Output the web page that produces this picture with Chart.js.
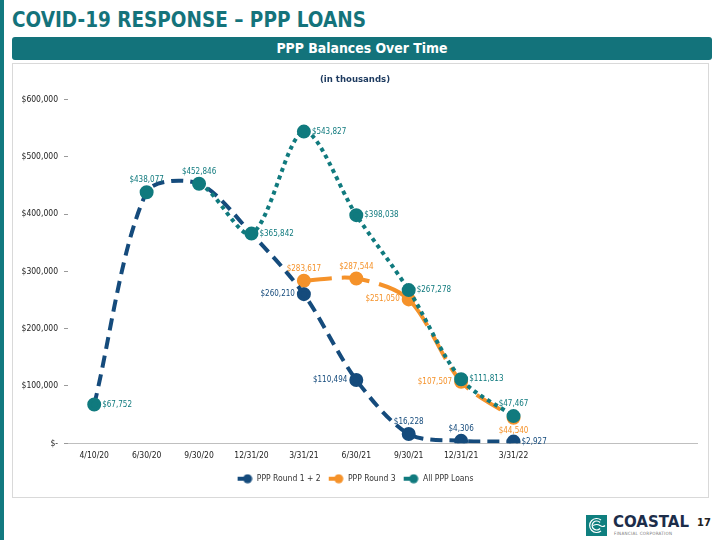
<!DOCTYPE html>
<html>
<head>
<meta charset="utf-8">
<script src="https://cdn.jsdelivr.net/npm/chart.js@4.4.1/dist/chart.umd.min.js"></script>
<style>
  html, body { margin: 0; padding: 0; background: #fff; }
  body { width: 720px; height: 540px; position: relative; overflow: hidden; font-family: 'DejaVu Sans Condensed', 'DejaVu Sans', sans-serif; }
  .sidebar { position: absolute; left: 0; top: 0; width: 4px; height: 540px; background: #127a80; }
  .title { position: absolute; left: 12px; top: 8px; font-size: 20.5px; font-weight: bold; color: #14737b; white-space: nowrap; }
  .band { position: absolute; left: 12px; top: 37px; width: 700px; height: 23px; background: #13737b; border-radius: 3px;
          color: #fff; font-weight: bold; font-size: 13.9px; text-align: center; line-height: 23px; }
  .box { position: absolute; left: 12px; top: 63px; width: 695px; height: 433px; border: 1px solid #d9d9d9; }
  #wrap { position: absolute; left: 13px; top: 64px; width: 694px; height: 432px; }
  .logo { position: absolute; left: 586px; top: 515px; }
  .brand { position: absolute; left: 613px; top: 513px; font-family: 'DejaVu Sans', sans-serif; font-weight: bold; font-size: 15px; color: #1c2d4a; }
  .sub { position: absolute; left: 614px; top: 531px; font-size: 4.5px; color: #777; letter-spacing: 0.3px; }
  .page { position: absolute; left: 697px; top: 516px; font-weight: bold; font-size: 11px; color: #222; }
</style>
</head>
<body>
<div class="sidebar"></div>
<div class="title">COVID-19 RESPONSE – PPP LOANS</div>
<div class="band">PPP Balances Over Time</div>
<div class="box"></div>
<div id="wrap"><canvas id="chart"></canvas></div>
<svg class="logo" width="21" height="21" viewBox="0 0 21 21">
  <rect width="21" height="21" fill="#0f7f7f"/>
  <path d="M15 5 A7 7 0 1 0 15 16" fill="none" stroke="#fff" stroke-width="1.2"/>
  <path d="M14 7.5 A4.5 4.5 0 1 0 14 13.5" fill="none" stroke="#fff" stroke-width="1.2"/>
  <path d="M7 10.5 Q11 8.5 14 10.5 T19 10.5" fill="none" stroke="#fff" stroke-width="1.2"/>
</svg>
<div class="brand">COASTAL</div>
<div class="sub">FINANCIAL CORPORATION</div>
<div class="page">17</div>
<script>
// quarters shown on the x axis
var categories = ['4/10/20', '6/30/20', '9/30/20', '12/31/20', '3/31/21', '6/30/21', '9/30/21', '12/31/21', '3/31/22'];
// balances, $ thousands
var round12 = [67752, 438077, 452846, 365842, 260210, 110494, 16228, 4306, 2927];
var round3 = [null, null, null, null, 283617, 287544, 251050, 107507, 44540];
var allPpp = [67752, 438077, 452846, 365842, 543827, 398038, 267278, 111813, 47467];
var yTicks = [0, 100000, 200000, 300000, 400000, 500000, 600000];

// where each value label sits relative to its point
var round12Pos = [null, null, null, null, 'left', 'left', 'above', 'above', 'right'];
var round3Pos = [null, null, null, null, 'above', 'above', 'left', 'left', 'below'];
var allPos = ['right', 'above', 'above', 'right', 'right', 'right', 'right', 'right', 'above'];

var navy = '#154b7c';
var orange = '#f5922a';
var teal = '#107a7e';
var FONT = "'DejaVu Sans Condensed', 'DejaVu Sans', sans-serif";

function money(v) {
  return v === 0 ? '$-' : '$' + v.toLocaleString('en-US');
}

// the "All" curve is identical to Round 1 + 2 where both it and its neighbours match
function sameCurve(a, b) {
  var lo = Math.max(0, a - 1), hi = Math.min(allPpp.length - 1, b + 1);
  for (var k = lo; k <= hi; k++) {
    if (allPpp[k] !== round12[k]) return false;
  }
  return true;
}

function legendIcon(color) {
  var c = document.createElement('canvas');
  c.width = 16; c.height = 10;
  var g = c.getContext('2d');
  g.strokeStyle = color; g.lineWidth = 4;
  g.beginPath(); g.moveTo(1, 5); g.lineTo(11, 5); g.stroke();
  g.fillStyle = color;
  g.beginPath(); g.arc(11, 5, 4.5, 0, Math.PI * 2); g.fill();
  return c;
}

var valueLabels = {
  id: 'valueLabels',
  afterDatasetsDraw: function (chart) {
    var ctx = chart.ctx;
    ctx.save();
    ctx.font = '8px ' + FONT;
    chart.data.datasets.forEach(function (ds, i) {
      var meta = chart.getDatasetMeta(i);
      meta.data.forEach(function (pt, j) {
        var v = ds.data[j];
        var where = ds.labelPos[j];
        if (v == null || !where) return;
        var x = pt.x, y = pt.y;
        ctx.fillStyle = ds.borderColor;
        ctx.textBaseline = 'middle';
        if (where === 'right') { ctx.textAlign = 'left'; x += 8; }
        else if (where === 'left') { ctx.textAlign = 'right'; x -= 9; }
        else if (where === 'above') { ctx.textAlign = 'center'; y -= 12; }
        else { ctx.textAlign = 'center'; y += 13; }
        ctx.fillText(money(v), x, y);
      });
    });
    ctx.restore();
  }
};

var ctx = document.getElementById('chart').getContext('2d');
new Chart(ctx, {
  type: 'line',
  data: {
    labels: categories.concat(['', '', '']),
    datasets: [
      {
        label: 'PPP Round 1 + 2',
        data: round12,
        labelPos: round12Pos,
        borderColor: navy,
        backgroundColor: navy,
        borderWidth: 4,
        borderDash: [12, 7],
        pointRadius: function (c) { return c.dataIndex < 4 ? 0 : 5; },
        order: 1
      },
      {
        label: 'PPP Round 3',
        data: round3,
        labelPos: round3Pos,
        borderColor: orange,
        backgroundColor: orange,
        borderWidth: 4,
        borderDash: [28, 10],
        pointRadius: 5,
        order: 2
      },
      {
        label: 'All PPP Loans',
        data: allPpp,
        labelPos: allPos,
        borderColor: teal,
        backgroundColor: teal,
        borderWidth: 4,
        borderDash: [4, 4],
        borderCapStyle: 'butt',
        pointRadius: 5,
        segment: {
          borderColor: function (c) { return sameCurve(c.p0DataIndex, c.p1DataIndex) ? 'rgba(0,0,0,0)' : undefined; }
        },
        order: 0
      }
    ]
  },
  options: {
    responsive: true,
    maintainAspectRatio: false,
    animation: false,
    layout: { padding: { right: 10, top: 0, bottom: 3 } },
    elements: { line: { tension: 0.3 }, point: { borderWidth: 0, hoverRadius: 5 } },
    plugins: {
      tooltip: { enabled: false },
      title: {
        display: true,
        text: '(in thousands)',
        color: '#1d3a5f',
        font: { family: FONT, size: 9.5, weight: 'bold' },
        padding: { top: 10, bottom: 14 }
      },
      legend: {
        position: 'bottom',
        labels: {
          color: '#333',
          font: { family: FONT, size: 8.5 },
          usePointStyle: true,
          pointStyleWidth: 16,
          boxHeight: 9,
          padding: 7,
          sort: function (a, b) { return a.datasetIndex - b.datasetIndex; },
          generateLabels: function (chart) {
            return chart.data.datasets.map(function (ds, i) {
              return {
                text: ds.label,
                fontColor: '#333',
                pointStyle: legendIcon(ds.borderColor),
                datasetIndex: i,
                lineWidth: 0,
                hidden: false
              };
            });
          }
        }
      }
    },
    scales: {
      x: {
        offset: true,
        grid: { display: false, drawTicks: false },
        border: { color: '#bfbfbf', width: 1 },
        ticks: { color: '#222', font: { family: FONT, size: 8.5 }, maxRotation: 0, autoSkip: false, padding: 7 }
      },
      y: {
        min: 0,
        max: 600000,
        afterFit: function (scale) { scale.width = 55; },
        afterBuildTicks: function (scale) {
          scale.ticks = yTicks.map(function (v) { return { value: v }; });
        },
        border: { display: false },
        grid: { drawOnChartArea: false, drawTicks: true, tickLength: 4, color: '#9a9a9a' },
        ticks: {
          color: '#222',
          font: { family: FONT, size: 8.5 },
          padding: 6,
          callback: function (v) { return money(v); }
        }
      }
    }
  },
  plugins: [valueLabels]
});
</script>
</body>
</html>
